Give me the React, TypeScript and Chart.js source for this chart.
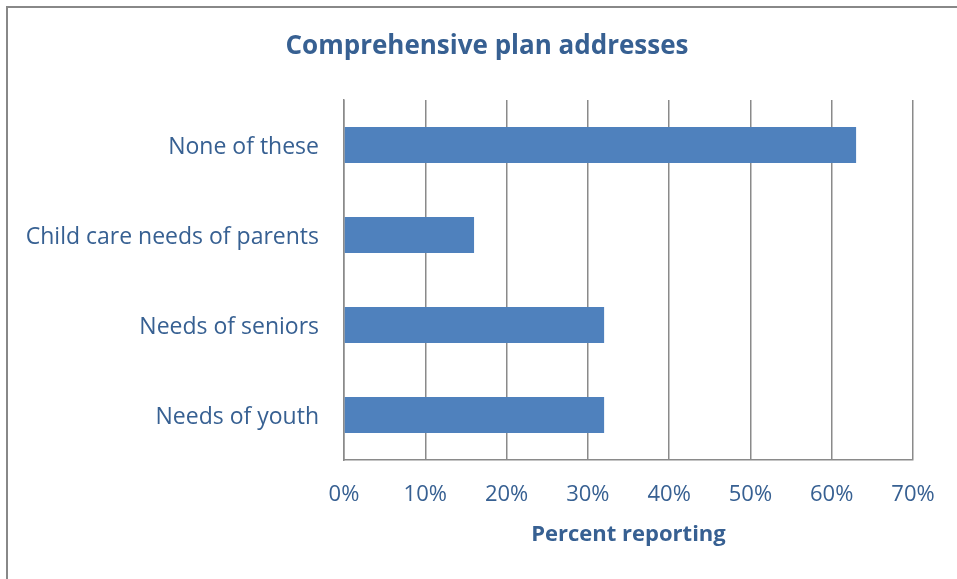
import React, { useEffect, useRef } from "react";
import { Chart, registerables } from "chart.js";

Chart.register(...registerables);

const categories = ["None of these", "Child care needs of parents", "Needs of seniors", "Needs of youth"];
const percentValues = [63, 16, 32, 32];
const chartTitle = "Comprehensive plan addresses";
const xAxisTitle = "Percent reporting";

const TEXT = "#376092";
const GRID = "#8a8a8a";
const FONT = "'Open Sans', Lato, sans-serif";

const borderPlugin = {
  id: "outerBorder",
  beforeDraw(chart: any) {
    const ctx = chart.ctx;
    ctx.save();
    ctx.strokeStyle = "#888888";
    ctx.lineWidth = 2;
    ctx.beginPath();
    ctx.moveTo(7, 579);
    ctx.lineTo(7, 7);
    ctx.lineTo(957, 7);
    ctx.stroke();
    ctx.restore();
  },
  afterDraw(chart: any) {
    const ctx = chart.ctx;
    ctx.save();
    ctx.fillStyle = TEXT;
    ctx.font = "bold 26px " + FONT;
    ctx.textAlign = "center";
    ctx.textBaseline = "middle";
    ctx.fillText(chartTitle, 487, 47);
    ctx.restore();
  },
};

export default function App() {
  const ref = useRef<HTMLCanvasElement | null>(null);
  useEffect(() => {
    if (!ref.current) return;
    const chart = new Chart(ref.current, {
      type: "bar",
      data: {
        labels: categories,
        datasets: [
          {
            data: percentValues,
            backgroundColor: "#4F81BD",
            borderWidth: 0,
            categoryPercentage: 1,
            barPercentage: 0.4,
          },
        ],
      },
      options: {
        indexAxis: "y",
        animation: false,
        responsive: false,
        layout: { padding: { left: 0, right: 44, top: 100, bottom: 0 } },
        plugins: {
          legend: { display: false },
          tooltip: { enabled: false },
          title: { display: false },
        },
        scales: {
          x: {
            min: 0,
            max: 70,
            ticks: {
              stepSize: 10,
              color: TEXT,
              padding: 22,
              font: { family: FONT, size: 22 },
              callback: (v: any) => v + "%",
            },
            grid: { color: GRID, lineWidth: 1.5, drawTicks: false },
            border: { color: GRID, width: 1.5 },
            title: {
              display: true,
              text: xAxisTitle,
              color: TEXT,
              font: { family: FONT, size: 22, weight: "bold" },
              padding: { top: 0, bottom: 31 },
            },
            afterFit: (s: any) => {
              s.height = 119;
            },
          },
          y: {
            ticks: {
              color: TEXT,
              padding: 25,
              labelOffset: 2,
              font: { family: FONT, size: 23 },
            },
            grid: { display: false, drawTicks: false },
            border: { color: GRID, width: 1.5 },
            afterFit: (s: any) => {
              s.width = 344;
            },
          },
        },
      },
      plugins: [borderPlugin],
    });
    return () => chart.destroy();
  }, []);
  return (
    <div style={{ position: "absolute", left: 0, top: 0, width: 957, height: 579, background: "#fff" }}>
      <canvas ref={ref} width={957} height={579} />
    </div>
  );
}
